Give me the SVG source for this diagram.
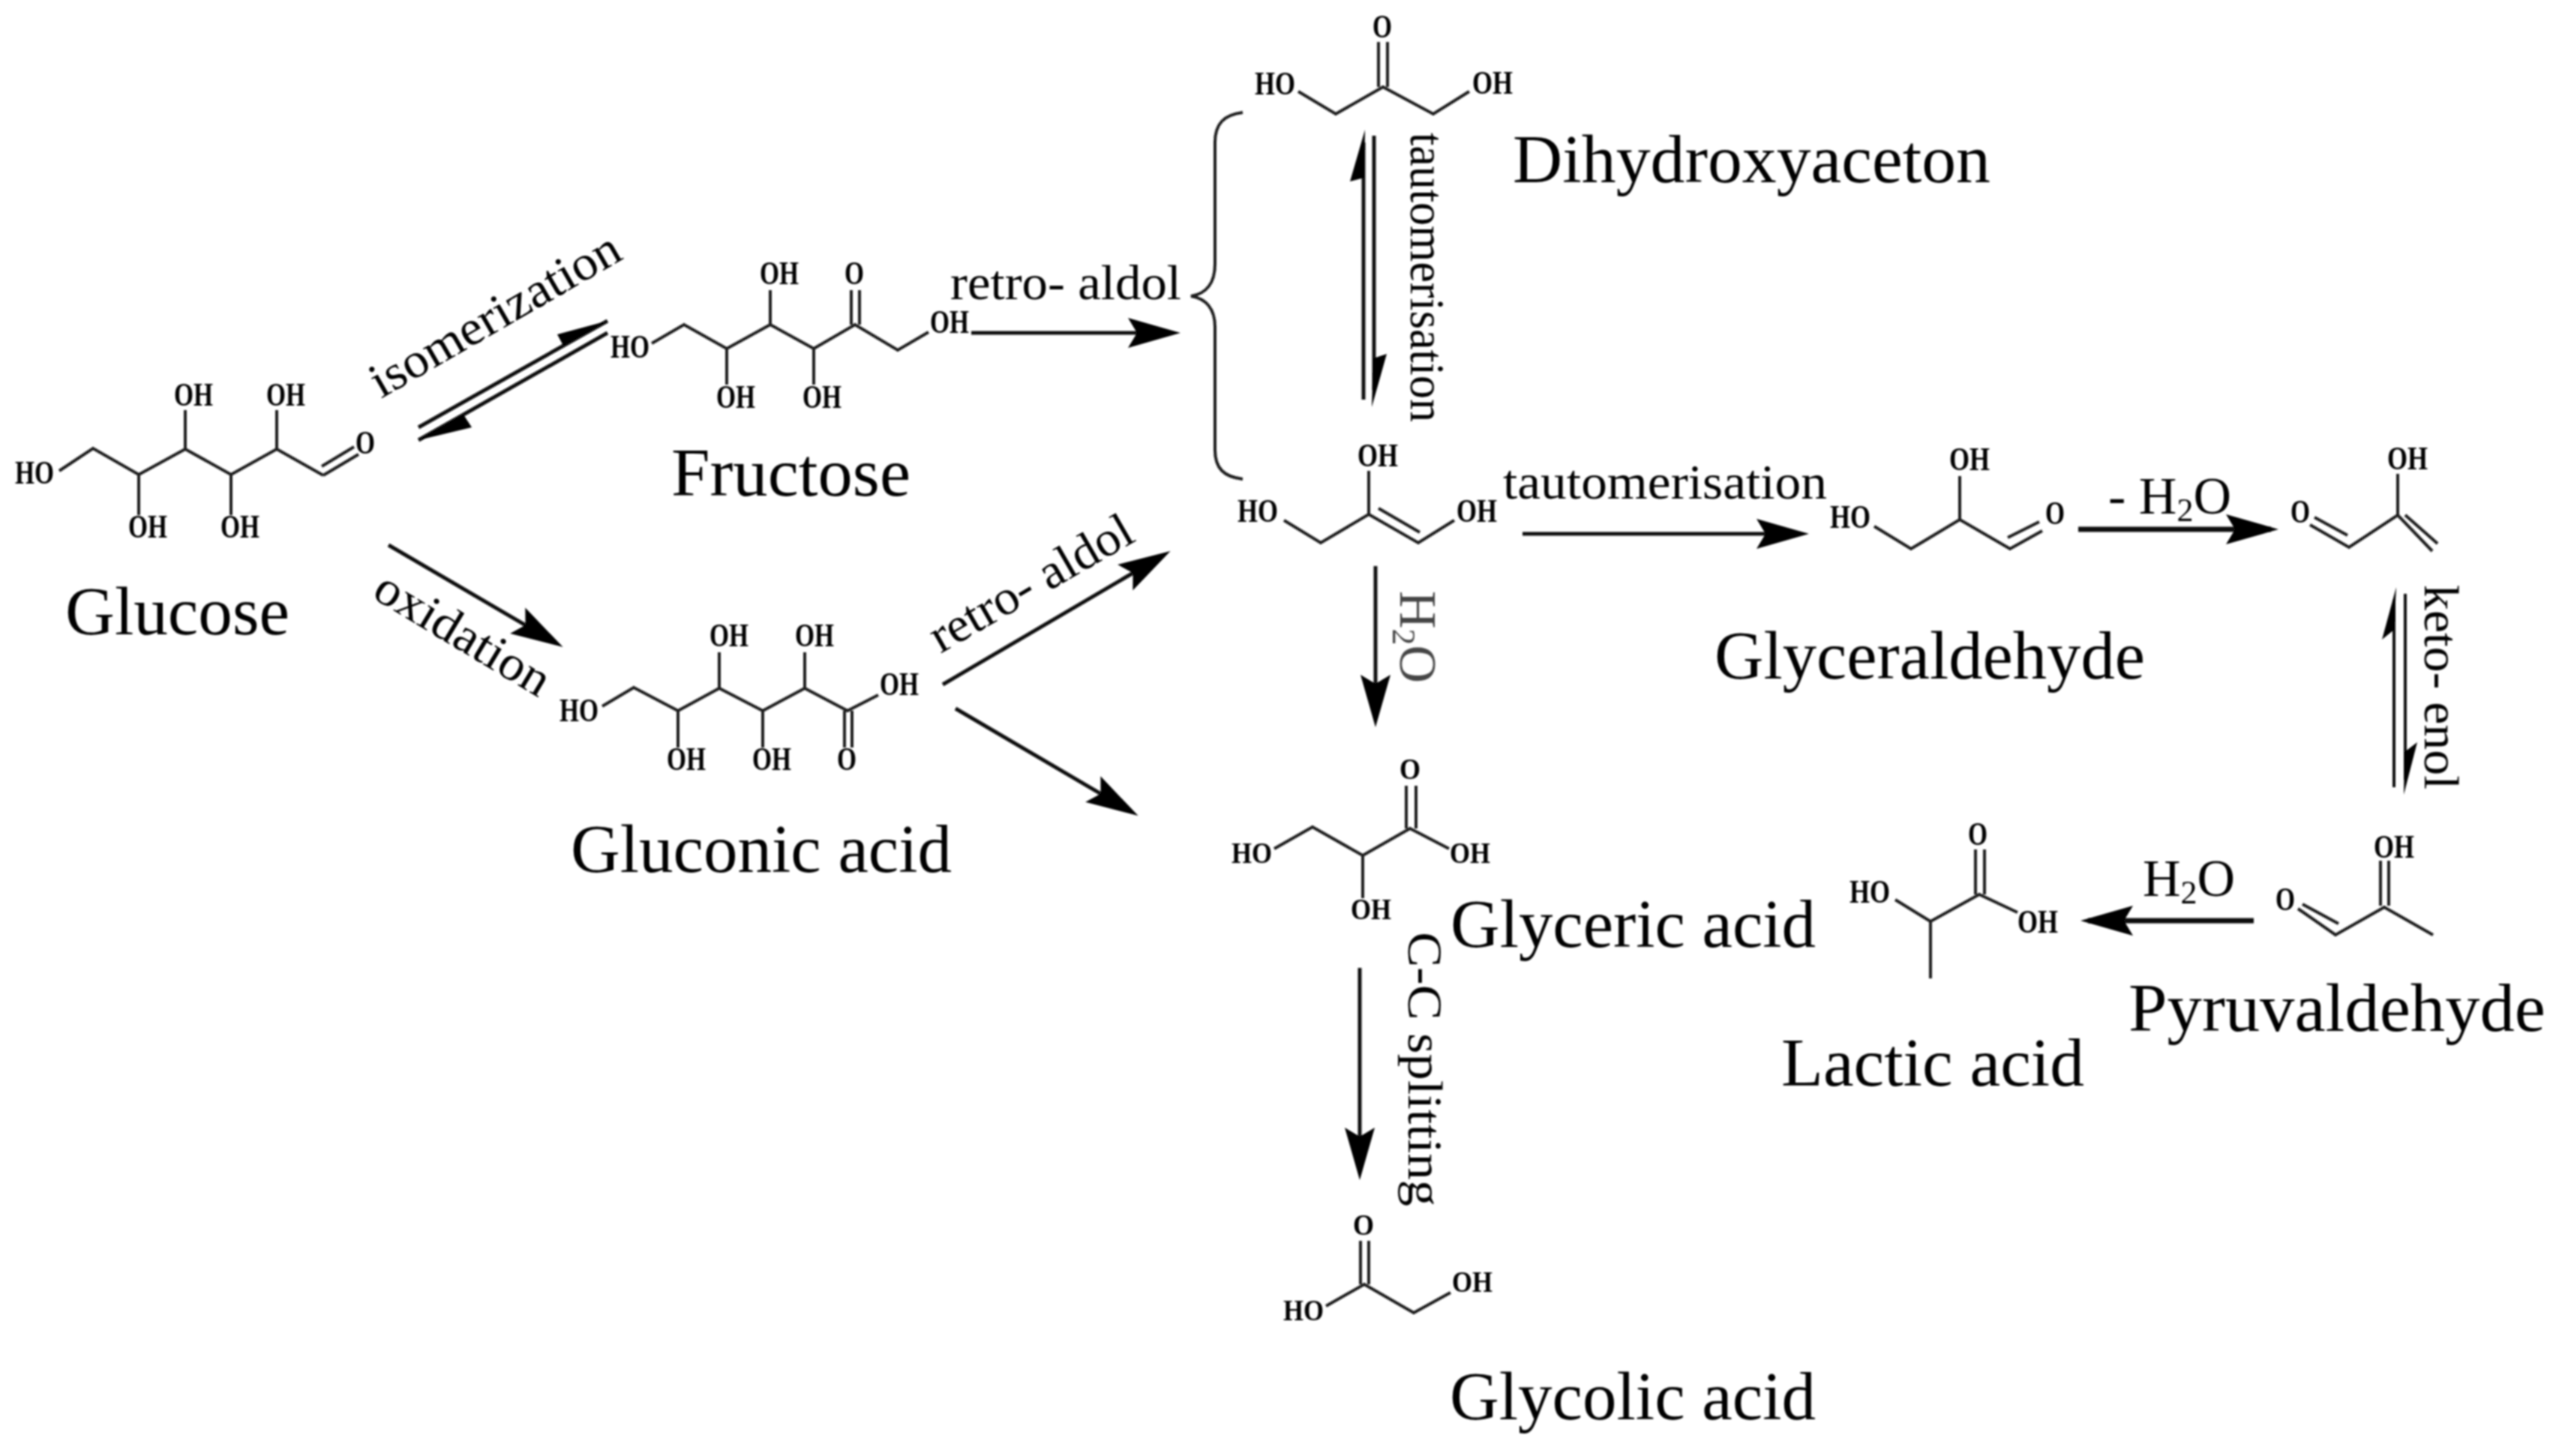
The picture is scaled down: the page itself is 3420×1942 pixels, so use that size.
<svg xmlns="http://www.w3.org/2000/svg" width="3420" height="1942" viewBox="0 0 3420 1942">
<style>
text{font-family:"Liberation Serif","Times New Roman",serif;fill:#000}
.name{font-size:91px}
.lab{font-size:66px}
.h2o{font-size:70px}
.sub{font-size:44px}
.a{font-size:44px;font-weight:bold;text-anchor:middle}
.b{font-size:41px;font-weight:bold;text-anchor:middle}
.bond{fill:none;stroke:#1a1a1a;stroke-width:4;stroke-linejoin:miter}
.ar{fill:none;stroke:#111;stroke-width:5}
.head{fill:#000;stroke:none}
</style>
<defs>
<marker id="hd" markerUnits="userSpaceOnUse" markerWidth="72" markerHeight="42" viewBox="0 0 72 42" refX="60" refY="21" orient="auto"><path d="M0,1 L70,21 L0,41 L12,21 Z" fill="#000"/></marker>
<filter id="soft" filterUnits="userSpaceOnUse" x="0" y="0" width="3420" height="1942"><feGaussianBlur stdDeviation="1.2"/></filter>
</defs>
<rect width="3420" height="1942" fill="#fff"/>
<g filter="url(#soft)">
<g id="connectors">
<line class="ar" x1="558" y1="570" x2="810" y2="428"/>
<line class="ar" x1="810" y1="444" x2="558" y2="587"/>
<polygon class="head" points="810,428 743,446 751,461"/>
<polygon class="head" points="558,587 629,570 618,553"/>
<line class="ar" x1="518" y1="727" x2="742" y2="858" marker-end="url(#hd)"/>
<line class="ar" x1="1257" y1="913" x2="1552" y2="740" marker-end="url(#hd)"/>
<line class="ar" x1="1274" y1="945" x2="1509" y2="1083" marker-end="url(#hd)"/>
<line class="ar" x1="1295" y1="444" x2="1564" y2="444" marker-end="url(#hd)"/>
<line class="ar" x1="2030" y1="712" x2="2402" y2="712" marker-end="url(#hd)"/>
<line class="ar" x1="1834" y1="755" x2="1834" y2="960" marker-end="url(#hd)"/>
<line class="ar" x1="1813" y1="1291" x2="1813" y2="1564" marker-end="url(#hd)"/>
<line class="ar" x1="2771" y1="706" x2="3028" y2="706" marker-end="url(#hd)" style="stroke-width:7"/>
<line class="ar" x1="3005" y1="1228" x2="2784" y2="1228" marker-end="url(#hd)" style="stroke-width:7"/>
<line class="ar" x1="1818" y1="533" x2="1818" y2="190"/>
<polygon class="head" points="1820,173 1800,242 1819,237"/>
<line class="ar" x1="1832" y1="181" x2="1832" y2="520"/>
<polygon class="head" points="1829,543 1849,472 1831,478"/>
<line class="ar" x1="3192" y1="1050" x2="3192" y2="800" style="stroke-width:4"/>
<polygon class="head" points="3195,783 3176,853 3192,840"/>
<line class="ar" x1="3207" y1="792" x2="3207" y2="1040" style="stroke-width:4"/>
<polygon class="head" points="3205,1060 3223,990 3206,1003"/>
<path id="brace" class="bond" d="M1657,150 C1632,153 1620,165 1620,190 L1620,352 C1620,378 1608,392 1588,395 C1608,398 1620,412 1620,436 L1620,600 C1620,625 1632,636 1657,639"/>
</g>

<g id="labels">
<text class="lab" transform="translate(508,532) rotate(-30)" textLength="375" lengthAdjust="spacingAndGlyphs">isomerization</text>
<text class="lab" transform="translate(494,796) rotate(31)" textLength="262" lengthAdjust="spacingAndGlyphs">oxidation</text>
<text class="lab" x="1267" y="399" textLength="308" lengthAdjust="spacingAndGlyphs">retro- aldol</text>
<text class="lab" transform="translate(1254,872) rotate(-30)" textLength="303" lengthAdjust="spacingAndGlyphs">retro- aldol</text>
<text class="lab" transform="translate(1881,177) rotate(90)" textLength="386" lengthAdjust="spacingAndGlyphs">tautomerisation</text>
<text class="lab" x="2004" y="665" textLength="432" lengthAdjust="spacingAndGlyphs">tautomerisation</text>
<text class="h2o" transform="translate(1867,788) rotate(90)" style="fill:#444">H<tspan class="sub" dy="10">2</tspan><tspan dy="-10">O</tspan></text>
<text class="h2o" x="2811" y="685">- H<tspan class="sub" dy="10">2</tspan><tspan dy="-10">O</tspan></text>
<text class="h2o" x="2857" y="1195">H<tspan class="sub" dy="10">2</tspan><tspan dy="-10">O</tspan></text>
<text class="lab" transform="translate(3233,780) rotate(90)" textLength="273" lengthAdjust="spacingAndGlyphs">keto- enol</text>
<text class="lab" transform="translate(1878,1243) rotate(90)" textLength="366" lengthAdjust="spacingAndGlyphs">C-C splitting</text>
</g>

<g id="glucose">
<path class="bond" d="M79,628 L124,598 L185,633 L247,599 L308,633 L369,599 L431,634 M247,599 V547 M369,599 V547 M185,633 V687 M308,633 V687 M431,634 L478,606 M429,622 L472,596"/>
<text class="a" x="46" y="645" textLength="52" lengthAdjust="spacingAndGlyphs">HO</text>
<text class="a" x="258" y="541" textLength="52" lengthAdjust="spacingAndGlyphs">OH</text>
<text class="a" x="381" y="541" textLength="52" lengthAdjust="spacingAndGlyphs">OH</text>
<text class="a" x="197" y="717" textLength="52" lengthAdjust="spacingAndGlyphs">OH</text>
<text class="a" x="320" y="717" textLength="52" lengthAdjust="spacingAndGlyphs">OH</text>
<text class="a" x="487" y="605" textLength="26" lengthAdjust="spacingAndGlyphs">O</text>
<text class="name" x="87" y="846" textLength="299" lengthAdjust="spacingAndGlyphs">Glucose</text>
</g>

<g id="fructose">
<path class="bond" d="M869,458 L912,433 L969,465 L1027,433 L1085,465 L1140,433 L1197,467 L1238,443 M1027,433 V387 M969,465 V513 M1085,465 V513 M1135,433 V387 M1146,433 V387"/>
<text class="a" x="840" y="477" textLength="52" lengthAdjust="spacingAndGlyphs">HO</text>
<text class="a" x="1039" y="379" textLength="52" lengthAdjust="spacingAndGlyphs">OH</text>
<text class="a" x="1139" y="379" textLength="26" lengthAdjust="spacingAndGlyphs">O</text>
<text class="a" x="1266" y="444" textLength="52" lengthAdjust="spacingAndGlyphs">OH</text>
<text class="a" x="981" y="544" textLength="52" lengthAdjust="spacingAndGlyphs">OH</text>
<text class="a" x="1096" y="544" textLength="52" lengthAdjust="spacingAndGlyphs">OH</text>
<text class="name" x="895" y="661" textLength="319" lengthAdjust="spacingAndGlyphs">Fructose</text>
</g>

<g id="gluconic-acid">
<path class="bond" d="M803,942 L845,917 L904,948 L959,918 L1017,948 L1073,918 L1130,948 L1171,927 M959,918 V870 M1073,918 V870 M904,948 V997 M1017,948 V997 M1126,948 V997 M1136,948 V997"/>
<text class="a" x="772" y="962" textLength="52" lengthAdjust="spacingAndGlyphs">HO</text>
<text class="a" x="972" y="862" textLength="52" lengthAdjust="spacingAndGlyphs">OH</text>
<text class="a" x="1086" y="862" textLength="52" lengthAdjust="spacingAndGlyphs">OH</text>
<text class="a" x="1199" y="927" textLength="52" lengthAdjust="spacingAndGlyphs">OH</text>
<text class="a" x="915" y="1027" textLength="52" lengthAdjust="spacingAndGlyphs">OH</text>
<text class="a" x="1029" y="1027" textLength="52" lengthAdjust="spacingAndGlyphs">OH</text>
<text class="a" x="1129" y="1027" textLength="26" lengthAdjust="spacingAndGlyphs">O</text>
<text class="name" x="761" y="1163" textLength="508" lengthAdjust="spacingAndGlyphs">Gluconic acid</text>
</g>

<g id="dihydroxyacetone">
<path class="bond" d="M1731,122 L1781,152 L1844,116 L1911,152 L1959,122 M1838,116 V56 M1850,116 V56"/>
<text class="a" x="1700" y="126" textLength="54" lengthAdjust="spacingAndGlyphs">HO</text>
<text class="a" x="1990" y="125" textLength="54" lengthAdjust="spacingAndGlyphs">OH</text>
<text class="a" x="1843" y="50" textLength="26" lengthAdjust="spacingAndGlyphs">O</text>
<text class="name" x="2017" y="243" textLength="637" lengthAdjust="spacingAndGlyphs">Dihydroxyaceton</text>
</g>

<g id="enediol">
<path class="bond" d="M1712,694 L1761,724 L1825,686 L1891,724 L1939,694 M1825,686 V628 M1838,678 L1893,710"/>
<text class="a" x="1677" y="696" textLength="54" lengthAdjust="spacingAndGlyphs">HO</text>
<text class="a" x="1837" y="622" textLength="54" lengthAdjust="spacingAndGlyphs">OH</text>
<text class="a" x="1969" y="696" textLength="54" lengthAdjust="spacingAndGlyphs">OH</text>
</g>

<g id="glyceraldehyde">
<path class="bond" d="M2499,702 L2548,732 L2613,693 L2680,732 L2723,708 M2613,693 V635 M2677,717 L2719,696"/>
<text class="a" x="2467" y="704" textLength="54" lengthAdjust="spacingAndGlyphs">HO</text>
<text class="a" x="2626" y="627" textLength="54" lengthAdjust="spacingAndGlyphs">OH</text>
<text class="a" x="2740" y="699" textLength="26" lengthAdjust="spacingAndGlyphs">O</text>
<text class="name" x="2286" y="905" textLength="574" lengthAdjust="spacingAndGlyphs">Glyceraldehyde</text>
</g>

<g id="enol">
<path class="bond" d="M3080,700 L3132,730 L3197,687 L3243,735 M3197,687 V632 M3086,690 L3130,714 M3207,687 L3250,725"/>
<text class="a" x="3067" y="697" textLength="26" lengthAdjust="spacingAndGlyphs">O</text>
<text class="a" x="3210" y="626" textLength="54" lengthAdjust="spacingAndGlyphs">OH</text>
</g>

<g id="pyruvaldehyde">
<path class="bond" d="M3064,1212 L3114,1247 L3179,1210 L3244,1247 M3174,1208 V1148 M3185,1208 V1148 M3070,1206 L3118,1232"/>
<text class="a" x="3047" y="1214" textLength="26" lengthAdjust="spacingAndGlyphs">O</text>
<text class="a" x="3192" y="1144" textLength="54" lengthAdjust="spacingAndGlyphs">OH</text>
<text class="name" x="2838" y="1375" textLength="556" lengthAdjust="spacingAndGlyphs">Pyruvaldehyde</text>
</g>

<g id="lactic-acid">
<path class="bond" d="M2527,1200 L2574,1229 L2639,1193 L2690,1217 M2574,1229 V1305 M2634,1193 V1133 M2646,1193 V1133"/>
<text class="a" x="2493" y="1204" textLength="54" lengthAdjust="spacingAndGlyphs">HO</text>
<text class="a" x="2717" y="1244" textLength="54" lengthAdjust="spacingAndGlyphs">OH</text>
<text class="a" x="2637" y="1127" textLength="26" lengthAdjust="spacingAndGlyphs">O</text>
<text class="name" x="2375" y="1448" textLength="404" lengthAdjust="spacingAndGlyphs">Lactic acid</text>
</g>

<g id="glyceric-acid">
<path class="bond" d="M1699,1132 L1750,1103 L1817,1141 L1880,1105 L1932,1132 M1817,1141 V1198 M1875,1105 V1048 M1888,1105 V1048"/>
<text class="b" x="1669" y="1151" textLength="54" lengthAdjust="spacingAndGlyphs">HO</text>
<text class="b" x="1960" y="1151" textLength="54" lengthAdjust="spacingAndGlyphs">OH</text>
<text class="b" x="1828" y="1226" textLength="54" lengthAdjust="spacingAndGlyphs">OH</text>
<text class="b" x="1880" y="1039" textLength="28" lengthAdjust="spacingAndGlyphs">O</text>
<text class="name" x="1934" y="1263" textLength="487" lengthAdjust="spacingAndGlyphs">Glyceric acid</text>
</g>

<g id="glycolic-acid">
<path class="bond" d="M1768,1742 L1819,1713 L1885,1751 L1934,1724 M1814,1713 V1655 M1825,1713 V1655"/>
<text class="b" x="1738" y="1761" textLength="54" lengthAdjust="spacingAndGlyphs">HO</text>
<text class="b" x="1963" y="1723" textLength="54" lengthAdjust="spacingAndGlyphs">OH</text>
<text class="b" x="1818" y="1647" textLength="28" lengthAdjust="spacingAndGlyphs">O</text>
<text class="name" x="1933" y="1893" textLength="488" lengthAdjust="spacingAndGlyphs">Glycolic acid</text>
</g>
</g>
</svg>
